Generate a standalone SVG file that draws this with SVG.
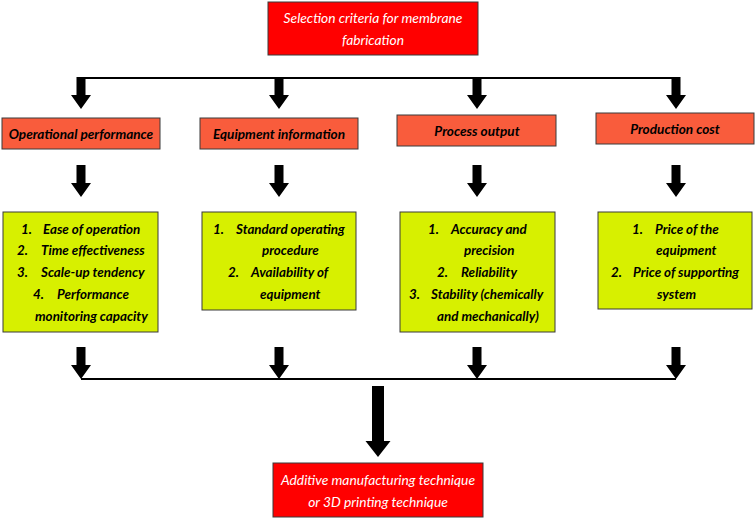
<svg xmlns="http://www.w3.org/2000/svg" width="756" height="519" viewBox="0 0 756 519">
<style>
.red{fill:#ff0000;stroke:#3a3a3a;stroke-width:1}
.cat{fill:#f95c3c;stroke:#3a3a3a;stroke-width:1}
.yel{fill:#d7f000;stroke:#3a3a3a;stroke-width:1}
.wt{font-family:Lato,"Liberation Sans",sans-serif;font-style:italic;font-size:13.8px;fill:#ffffff;text-anchor:middle}
.ct{font-family:Lato,"Liberation Sans",sans-serif;font-style:italic;font-weight:bold;font-size:13.6px;fill:#000000;text-anchor:middle}
.lt{font-family:Lato,"Liberation Sans",sans-serif;font-style:italic;font-weight:bold;font-size:13.4px;fill:#000000}
.ln{fill:none;stroke:#000000;stroke-width:2}
.ar{fill:#000000}
</style>
<defs>
<path id="arr" d="M-4.5,0 H4.5 V18 H10 L0,32 L-10,18 H-4.5 Z"/>
</defs>
<g id="connectors">
<line class="ln" x1="81" y1="78" x2="676" y2="78"/>
<use href="#arr" class="ar" transform="translate(81,77)"/>
<use href="#arr" class="ar" transform="translate(279,77)"/>
<use href="#arr" class="ar" transform="translate(477,77)"/>
<use href="#arr" class="ar" transform="translate(676,77)"/>
<use href="#arr" class="ar" transform="translate(81,165)"/>
<use href="#arr" class="ar" transform="translate(279,165)"/>
<use href="#arr" class="ar" transform="translate(477,165)"/>
<use href="#arr" class="ar" transform="translate(676,165)"/>
<use href="#arr" class="ar" transform="translate(81,347)"/>
<use href="#arr" class="ar" transform="translate(279,347)"/>
<use href="#arr" class="ar" transform="translate(477,347)"/>
<use href="#arr" class="ar" transform="translate(676,347)"/>
<line class="ln" x1="81" y1="379" x2="676" y2="379"/>
<path class="ar" d="M372,386 H384 V441 H390.5 L378,457 L365.5,441 H372 Z"/>
</g>
<g id="top">
<rect class="red" x="268" y="2" width="210" height="53"/>
<text class="wt" x="373" y="23">Selection criteria for membrane</text>
<text class="wt" x="373" y="45">fabrication</text>
</g>
<g id="cat1">
<rect class="cat" x="2" y="118" width="158" height="31"/>
<text class="ct" x="81" y="139">Operational performance</text>
</g>
<g id="cat2">
<rect class="cat" x="200" y="118" width="158" height="31"/>
<text class="ct" x="279" y="139">Equipment information</text>
</g>
<g id="cat3">
<rect class="cat" x="397" y="115" width="159" height="31"/>
<text class="ct" x="477" y="136">Process output</text>
</g>
<g id="cat4">
<rect class="cat" x="596" y="113" width="158" height="31"/>
<text class="ct" x="675" y="134">Production cost</text>
</g>
<g id="list1">
<rect class="yel" x="3" y="212" width="155" height="120"/>
<text class="lt" x="21" y="234">1.</text><text class="lt" x="43" y="234">Ease of operation</text>
<text class="lt" x="17" y="255">2.</text><text class="lt" x="41" y="255">Time effectiveness</text>
<text class="lt" x="17" y="277">3.</text><text class="lt" x="41" y="277">Scale-up tendency</text>
<text class="lt" x="33" y="299">4.</text><text class="lt" x="57" y="299">Performance</text>
<text class="lt" x="35" y="321">monitoring capacity</text>
</g>
<g id="list2">
<rect class="yel" x="202" y="212" width="154" height="98"/>
<text class="lt" x="213" y="234">1.</text><text class="lt" x="236" y="234">Standard operating</text>
<text class="lt" x="262" y="255">procedure</text>
<text class="lt" x="228" y="277">2.</text><text class="lt" x="251" y="277">Availability of</text>
<text class="lt" x="260" y="299">equipment</text>
</g>
<g id="list3">
<rect class="yel" x="400" y="212" width="155" height="120"/>
<text class="lt" x="428" y="234">1.</text><text class="lt" x="451" y="234">Accuracy and</text>
<text class="lt" x="464" y="255">precision</text>
<text class="lt" x="437" y="277">2.</text><text class="lt" x="461" y="277">Reliability</text>
<text class="lt" x="409" y="299">3.</text><text class="lt" x="431" y="299">Stability (chemically</text>
<text class="lt" x="437" y="321">and mechanically)</text>
</g>
<g id="list4">
<rect class="yel" x="598" y="212" width="154" height="97"/>
<text class="lt" x="632" y="234">1.</text><text class="lt" x="655" y="234">Price of the</text>
<text class="lt" x="656" y="255">equipment</text>
<text class="lt" x="611" y="277">2.</text><text class="lt" x="633" y="277">Price of supporting</text>
<text class="lt" x="657" y="299">system</text>
</g>
<g id="bottom">
<rect class="red" x="273" y="463" width="210" height="54"/>
<text class="wt" x="378" y="485">Additive manufacturing technique</text>
<text class="wt" x="378" y="507">or 3D printing technique</text>
</g>
</svg>
